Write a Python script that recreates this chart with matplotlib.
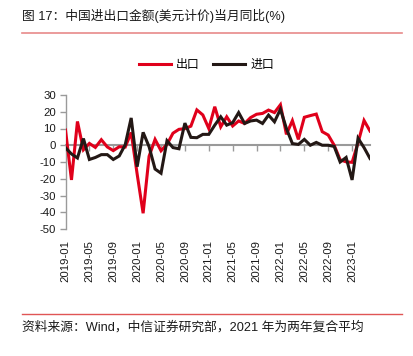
import matplotlib
matplotlib.use("Agg")
import matplotlib.pyplot as plt
from matplotlib.lines import Line2D
import numpy as np

months = [f"{y}-{m:02d}" for y in range(2019, 2024) for m in range(1, 13)][:52]

exports = [9.1, -20.7, 14.2, -2.7, 1.1, -1.3, 3.3, -1.0, -3.2, -0.9, -1.1, 7.6,
           -17.2, -40.6, -6.6, 3.5, -3.3, 0.5, 7.2, 9.5, 9.9, 11.4, 21.1, 18.1,
           10.0, 23.0, 11.0, 17.0, 11.5, 14.5, 13.0, 16.5, 18.5, 19.0, 21.0, 19.5,
           24.2, 6.5, 14.7, 3.5, 16.7, 17.7, 18.6, 8.1, 6.1, 0.0, -8.7, -9.9,
           -10.2, 1.5, 14.8, 8.5]
imports = [-1.5, -5.2, -7.6, 4.0, -8.5, -7.3, -5.6, -5.6, -8.5, -6.4, 0.3, 16.3,
           -12.8, 7.7, -0.9, -14.2, -16.7, 2.7, -1.4, -2.1, 13.2, 4.7, 4.5, 6.5,
           6.5, 12.0, 17.0, 12.0, 13.5, 19.5, 13.0, 14.5, 15.0, 13.0, 18.0, 14.0,
           21.5, 10.0, 1.0, 0.5, 3.5, 0.0, 1.7, 0.0, 0.0, -0.7, -10.0, -7.3,
           -20.7, 4.2, -1.4, -7.9]
series_names = ["出口", "进口"]
yticks = [30, 20, 10, 0, -10, -20, -30, -40, -50]

title = "图 17：中国进出口金额(美元计价)当月同比(%)"
source = "资料来源：Wind，中信证券研究部，2021 年为两年复合平均"

W, H = 414, 356
fig = plt.figure(figsize=(W / 100, H / 100), dpi=100)
ax = fig.add_axes([65.5 / W, 1 - 229 / H, (370 - 65.5) / W, (229 - 95) / H])

x = np.arange(len(months))
l1, = ax.plot(x, exports, color="#e0001b", lw=2.2, label=series_names[0], zorder=3, solid_joinstyle="miter")
l2, = ax.plot(x, imports, color="#231815", lw=2.2, label=series_names[1], zorder=4, solid_joinstyle="miter")

ax.set_xlim(0, len(months) - 1)
ax.set_ylim(-50, 30)
ax.set_yticks(yticks)
ax.set_yticklabels([str(v) for v in yticks])
tick_pos = x[::4]
ax.set_xticks(tick_pos)
ax.set_xticklabels([months[i] for i in tick_pos], rotation=90)

grey = "#9a9a9a"
for s in ["top", "right", "bottom"]:
    ax.spines[s].set_visible(False)
ax.spines["left"].set_color(grey)
ax.spines["left"].set_linewidth(1.0)
ax.tick_params(axis="y", colors=grey, labelcolor="#1a1a1a", length=4, width=1.0, pad=3,
               labelsize=8.2)
ax.tick_params(axis="x", length=0, pad=8, labelcolor="#1a1a1a", labelsize=8.2)
for lab in ax.get_xticklabels() + ax.get_yticklabels():
    lab.set_fontfamily("Liberation Sans")

sec = ax.secondary_xaxis(0.625)
sec.set_alignment("bottom")
sec.set_xticks(tick_pos)
sec.tick_params(axis="x", direction="out", length=4, width=1.0, colors=grey,
                labelbottom=False, labeltop=False)
sec.spines["bottom"].set_color(grey)
sec.spines["bottom"].set_linewidth(1.5)
sec.set_zorder(1.5)

leg = fig.legend(handles=[l1, l2], loc="center", bbox_to_anchor=(206.5 / W, 1 - 64.5 / H),
                 ncol=2, frameon=False, handlelength=2.7, handletextpad=0.4,
                 columnspacing=1.1, prop={"family": ["Noto Sans CJK SC", "DejaVu Sans"], "size": 8.6})

fig.text(22 / W, 1 - 15.5 / H, title, ha="left", va="center", fontsize=9.2,
         family=["Liberation Sans", "Noto Sans CJK SC", "DejaVu Sans"], color="#1a1a1a")
fig.add_artist(Line2D([22 / W, 402 / W], [1 - 33 / H] * 2, transform=fig.transFigure,
                      color="#e88a8a", lw=1.2))
fig.add_artist(Line2D([22 / W, 402 / W], [1 - 314 / H] * 2, transform=fig.transFigure,
                      color="#e05555", lw=1.0))
fig.text(22 / W, 1 - 327 / H, source, ha="left", va="center", fontsize=9.2,
         family=["Liberation Sans", "Noto Sans CJK SC", "DejaVu Sans"], color="#1a1a1a")

fig.savefig("out.png", dpi=100)
